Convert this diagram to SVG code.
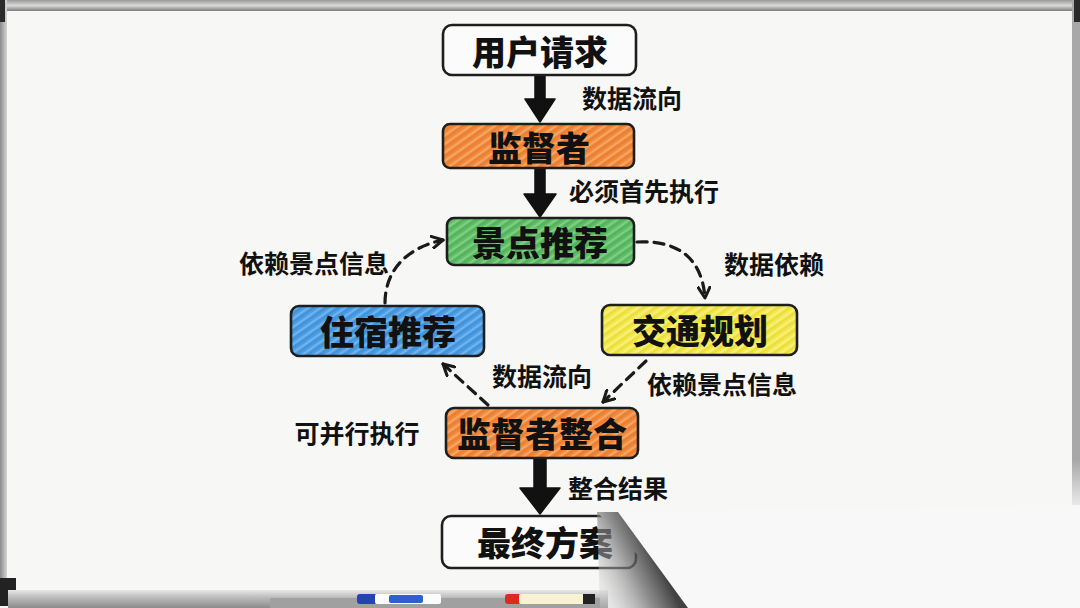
<svg xmlns="http://www.w3.org/2000/svg" width="1080" height="608" viewBox="0 0 1080 608">
<defs>
<style>
.box{stroke:#1e1e1e;stroke-width:2.6;stroke-linejoin:round}
.nt{font-family:"Noto Sans CJK SC","Noto Sans",sans-serif;font-weight:900;font-size:34px;fill:#111;text-anchor:middle;dominant-baseline:central}
.lb{font-family:"Noto Sans CJK SC","Noto Sans",sans-serif;font-weight:700;font-size:25px;fill:#111;text-anchor:middle;dominant-baseline:central}
.dash{fill:none;stroke:#1a1a1a;stroke-width:3.2;stroke-dasharray:10 7;stroke-linecap:round}
.thick{fill:#111;stroke:#111;stroke-width:1.5;stroke-linejoin:round}
</style>
<pattern id="hO" width="7" height="7" patternUnits="userSpaceOnUse" patternTransform="rotate(-35)">
<rect width="7" height="7" fill="#F28A3B"/><line x1="0" y1="2" x2="7" y2="2" stroke="#F9B27A" stroke-width="1.4"/><line x1="0" y1="5" x2="7" y2="5" stroke="#E2742A" stroke-width="1"/>
</pattern>
<pattern id="hG" width="7" height="7" patternUnits="userSpaceOnUse" patternTransform="rotate(-35)">
<rect width="7" height="7" fill="#5FBE66"/><line x1="0" y1="2" x2="7" y2="2" stroke="#8ED68F" stroke-width="1.4"/><line x1="0" y1="5" x2="7" y2="5" stroke="#48A652" stroke-width="1"/>
</pattern>
<pattern id="hB" width="7" height="7" patternUnits="userSpaceOnUse" patternTransform="rotate(-35)">
<rect width="7" height="7" fill="#4C9EE4"/><line x1="0" y1="2" x2="7" y2="2" stroke="#82BDF0" stroke-width="1.4"/><line x1="0" y1="5" x2="7" y2="5" stroke="#3787D0" stroke-width="1"/>
</pattern>
<pattern id="hY" width="7" height="7" patternUnits="userSpaceOnUse" patternTransform="rotate(-35)">
<rect width="7" height="7" fill="#F3E84A"/><line x1="0" y1="2" x2="7" y2="2" stroke="#FAF391" stroke-width="1.4"/><line x1="0" y1="5" x2="7" y2="5" stroke="#E2D432" stroke-width="1"/>
</pattern>
<marker id="chev" viewBox="0 0 14 14" refX="12" refY="7" markerWidth="14" markerHeight="14" markerUnits="userSpaceOnUse" orient="auto">
<path d="M1,1 L12,7 L1,13" fill="none" stroke="#1a1a1a" stroke-width="3" stroke-linecap="round" stroke-linejoin="round"/>
</marker>
<linearGradient id="topbar" x1="0" y1="0" x2="0" y2="1">
<stop offset="0" stop-color="#9a9a9a"/><stop offset="0.5" stop-color="#d9d9d9"/><stop offset="1" stop-color="#7d7d7d"/>
</linearGradient>
<linearGradient id="tray" x1="0" y1="0" x2="0" y2="1">
<stop offset="0" stop-color="#e8e8e8"/><stop offset="0.4" stop-color="#bdbdbd"/><stop offset="1" stop-color="#8c8c8c"/>
</linearGradient>
<linearGradient id="side" x1="0" y1="0" x2="1" y2="0">
<stop offset="0" stop-color="#8a8a8a"/><stop offset="1" stop-color="#d6d6d6"/>
</linearGradient>
<linearGradient id="curl" x1="596" y1="575" x2="652" y2="548" gradientUnits="userSpaceOnUse">
<stop offset="0" stop-color="#d0d0d0" stop-opacity="0.4"/><stop offset="0.6" stop-color="#6a6a6a" stop-opacity="0.75"/><stop offset="1" stop-color="#2e2e2e" stop-opacity="0.9"/>
</linearGradient>
<linearGradient id="rfade" x1="0" y1="0" x2="0" y2="1">
<stop offset="0" stop-color="#ffffff" stop-opacity="0"/><stop offset="1" stop-color="#ffffff" stop-opacity="1"/>
</linearGradient>
</defs>

<!-- whiteboard -->
<rect x="0" y="0" width="1080" height="608" fill="#f4f4f4"/>
<rect x="6" y="10" width="1066" height="582" fill="#f7f7f6"/>
<rect x="0" y="0" width="1080" height="11" fill="url(#topbar)"/>
<rect x="0" y="0" width="7" height="600" fill="url(#side)"/>
<rect x="1072" y="0" width="8" height="520" fill="#a8a8a8"/>
<rect x="1072" y="460" width="8" height="60" fill="url(#rfade)"/>
<rect x="0" y="0" width="5" height="22" fill="#2a2a2a"/>
<rect x="1074" y="0" width="6" height="22" fill="#2a2a2a"/>
<rect x="0" y="578" width="16" height="28" fill="#222"/>
<rect x="8" y="590" width="600" height="18" fill="url(#tray)"/>
<rect x="270" y="598" width="330" height="10" fill="#a0a0a0"/>
<!-- markers -->
<g>
<rect x="357" y="594" width="20" height="10" rx="3" fill="#2344b8"/>
<rect x="375" y="594" width="66" height="10" rx="2" fill="#fbfbfb"/>
<rect x="389" y="595" width="34" height="8" rx="2" fill="#2f5ed0"/>
<rect x="505" y="594" width="16" height="10" rx="3" fill="#e0281e"/>
<rect x="519" y="594" width="66" height="10" rx="2" fill="#f7f2d2"/>
<rect x="583" y="594" width="12" height="10" fill="#222"/>
</g>

<!-- connectors -->
<g id="connectors">
<path class="thick" d="M535,75 L545,75 L545,99 L555,99 L540,122 L525,99 L535,99 Z"/>
<path class="thick" d="M535,168 L545,168 L545,194 L556,194 L540,217 L524,194 L535,194 Z"/>
<path class="thick" d="M534,458 L546,458 L546,488 L560,488 L540,514 L520,488 L534,488 Z"/>
<path class="dash" d="M637,242 C678,240 702,258 705,298" marker-end="url(#chev)"/>
<path class="dash" d="M385,303 C385,272 405,248 443,240" marker-end="url(#chev)"/>
<path class="dash" d="M646,361 L603,402" marker-end="url(#chev)"/>
<path class="dash" d="M488,405 L443,364" marker-end="url(#chev)"/>
</g>

<!-- labels -->
<g id="labels">
<text class="lb" x="632" y="97">数据流向</text>
<text class="lb" x="644" y="190">必须首先执行</text>
<text class="lb" x="314" y="262">依赖景点信息</text>
<text class="lb" x="774" y="263">数据依赖</text>
<text class="lb" x="542" y="375">数据流向</text>
<text class="lb" x="722" y="383">依赖景点信息</text>
<text class="lb" x="357" y="432">可并行执行</text>
<text class="lb" x="618" y="487">整合结果</text>
</g>

<!-- nodes -->
<g id="node-user">
<rect class="box" x="443" y="25" width="193" height="50" rx="9" fill="#fbfbfb"/>
<text class="nt" x="540" y="50">用户请求</text>
</g>
<g id="node-supervisor">
<rect class="box" x="443" y="124" width="191" height="44" rx="7" fill="url(#hO)"/>
<text class="nt" x="539" y="146">监督者</text>
</g>
<g id="node-spot">
<rect class="box" x="447" y="218" width="187" height="47" rx="7" fill="url(#hG)"/>
<text class="nt" x="540" y="241">景点推荐</text>
</g>
<g id="node-hotel">
<rect class="box" x="291" y="306" width="193" height="50" rx="8" fill="url(#hB)"/>
<text class="nt" x="388" y="330">住宿推荐</text>
</g>
<g id="node-traffic">
<rect class="box" x="602" y="305" width="195" height="50" rx="8" fill="url(#hY)"/>
<text class="nt" x="700" y="329">交通规划</text>
</g>
<g id="node-merge">
<rect class="box" x="446" y="408" width="192" height="50" rx="8" fill="url(#hO)"/>
<text class="nt" x="542" y="432">监督者整合</text>
</g>
<g id="node-final">
<rect class="box" x="442" y="516" width="194" height="52" rx="9" fill="#fbfbfb"/>
<text class="nt" x="545" y="541">最终方案</text>
</g>

<!-- page curl -->
<polygon points="597,512 1080,505 1080,608 688,608" fill="#f8f8f8"/>
<polygon points="597,512 618,512 688,608 600,608" fill="url(#curl)"/>
</svg>
